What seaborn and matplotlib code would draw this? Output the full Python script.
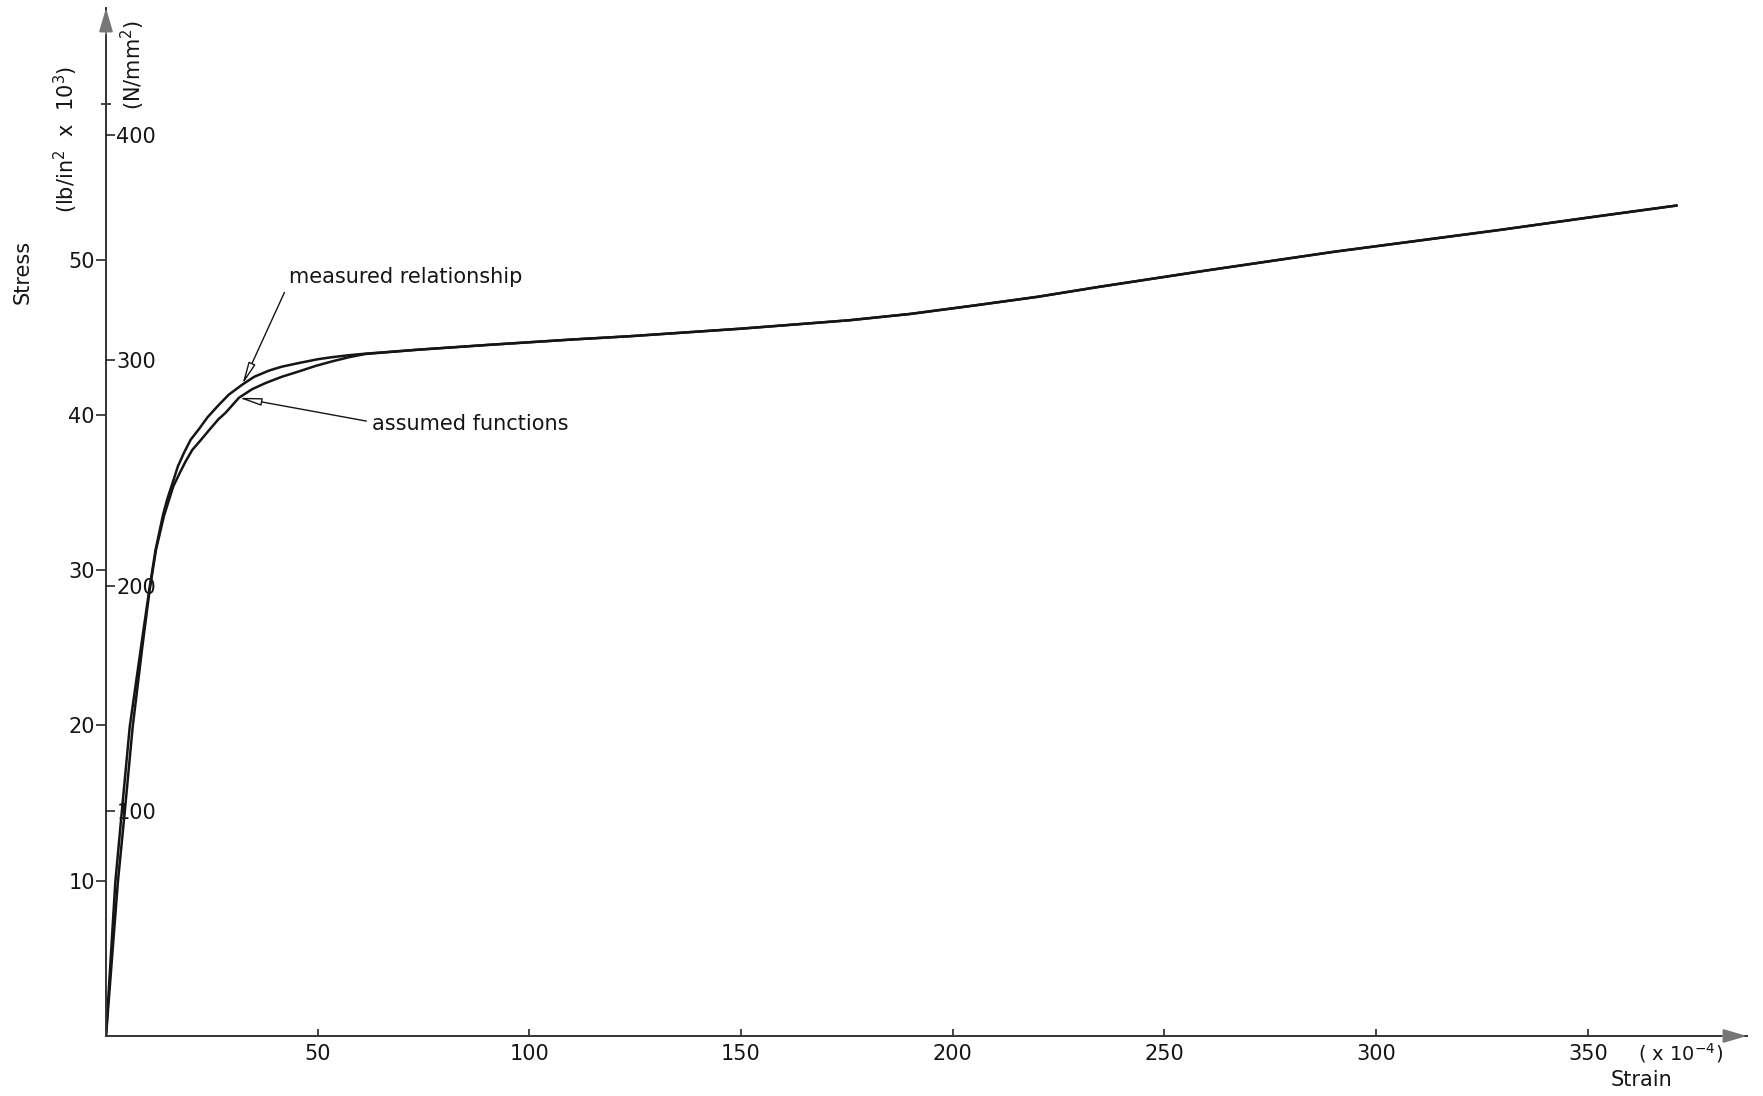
import numpy as np
import pandas as pd
import matplotlib
matplotlib.use("Agg")
import matplotlib.pyplot as plt
import seaborn as sns

# Strain (x 10^-4) and stress (lb/in^2 x 10^3)
measured_strain = [0, 2.2, 3.7, 5.6, 8.3, 10.2, 11.7, 13.5, 14.5, 15.7, 17.0, 18.5,
                   20.0, 22.0, 24.0, 26.5, 29.0, 32.2, 35.0, 38.5, 41.5, 45.6, 50.0,
                   53.0, 57.0, 61.3, 73.9, 90, 110, 123.5, 150, 175.5,
                   190, 205, 220, 234.5, 260, 290, 329, 350, 371]
measured_stress = [0, 9.9, 14.35, 19.9, 25.1, 28.7, 31.3, 33.6, 34.6, 35.6, 36.7, 37.6,
                   38.4, 39.1, 39.85, 40.6, 41.3, 41.95, 42.45, 42.85, 43.1, 43.34, 43.58,
                   43.7, 43.83, 43.94, 44.2, 44.5, 44.85, 45.06, 45.55, 46.09,
                   46.5, 47.04, 47.6, 48.24, 49.3, 50.5, 51.9, 52.7, 53.48]

assumed_strain = [0, 2.8, 4.4, 6.3, 8.6, 10.3, 11.8, 13.7, 15.9, 17.5, 18.8, 20.4,
                  22.0, 24.3, 26.5, 28.3, 31.4, 34.5, 37.7, 41.5, 45.6, 49.5, 53.5,
                  57.5, 61.3, 73.9, 90, 110, 123.5, 150, 175.5,
                  190, 205, 220, 234.5, 260, 290, 329, 350, 371]
assumed_stress = [0, 9.9, 14.35, 19.9, 25.1, 28.7, 31.3, 33.5, 35.4, 36.3, 37.0, 37.75,
                  38.25, 39.0, 39.7, 40.15, 41.1, 41.65, 42.05, 42.45, 42.8, 43.15, 43.45,
                  43.72, 43.92, 44.2, 44.5, 44.85, 45.06, 45.55, 46.09,
                  46.5, 47.04, 47.6, 48.24, 49.3, 50.5, 51.9, 52.7, 53.48]

strain_ticks = [50, 100, 150, 200, 250, 300, 350]
stress_ticks = [10, 20, 30, 40, 50]
si_ticks = [100, 200, 300, 400]
KSI_TO_NMM2 = 6.895

X_MAX = 387.6
Y_MAX = 66.2

sns.set_theme(style="white")
plt.rcParams["font.family"] = ["DejaVu Sans"]
INK = "#151515"
FS = 15

df = pd.concat([
    pd.DataFrame({"strain": measured_strain, "stress": measured_stress,
                  "curve": "measured relationship"}),
    pd.DataFrame({"strain": assumed_strain, "stress": assumed_stress,
                  "curve": "assumed functions"}),
], ignore_index=True)

W, H = 1763, 1096
fig = plt.figure(figsize=(W / 100, H / 100), dpi=100)
fig.patch.set_facecolor("white")
ax = fig.add_axes([106 / W, 60 / H, (1747 - 106) / W, (1036 - 8) / H])
ax.set_facecolor("none")

sns.lineplot(data=df, x="strain", y="stress", hue="curve",
             palette={"measured relationship": INK, "assumed functions": INK},
             estimator=None, sort=False, legend=False, lw=1.8, ax=ax)
for line in ax.get_lines():
    line.set_solid_joinstyle("round")

ax.set_xlim(0, X_MAX)
ax.set_ylim(0, Y_MAX)
ax.set_xlabel("")
ax.set_ylabel("")

for side in ("top", "right"):
    ax.spines[side].set_visible(False)
for side in ("left", "bottom"):
    ax.spines[side].set_color("#333333")
    ax.spines[side].set_linewidth(1.4)

# arrow heads at the ends of both axes
arrow_kw = dict(arrowstyle="-|>,head_length=1.2,head_width=0.35",
                color="#777777", lw=1.4, shrinkA=0, shrinkB=0)
ax.annotate("", xy=(0, 1), xycoords="axes fraction",
            xytext=(0, 0.975), textcoords="axes fraction", arrowprops=arrow_kw)
ax.annotate("", xy=(1, 0), xycoords="axes fraction",
            xytext=(0.985, 0), textcoords="axes fraction", arrowprops=arrow_kw)

# strain axis: short upward ticks, labels below
ax.set_xticks(strain_ticks)
ax.set_xticklabels([str(v) for v in strain_ticks])
ax.tick_params(axis="x", direction="in", length=5, width=1.1, color=INK,
               labelsize=FS, labelcolor=INK, pad=6, bottom=True)

# imperial stress scale on the left
ax.set_yticks(stress_ticks)
ax.set_yticklabels([str(v) for v in stress_ticks])
ax.set_yticks([60], minor=True)
ax.tick_params(axis="y", which="major", direction="out", length=7, width=1.1,
               color=INK, labelsize=FS, labelcolor=INK, pad=1, left=True)
ax.tick_params(axis="y", which="minor", direction="inout", length=7, width=1.1,
               color=INK, left=True)

# SI stress scale drawn on the right-hand side of the same axis line
ax2 = ax.twinx()
ax2.set_ylim(0, Y_MAX * KSI_TO_NMM2)
ax2.spines["right"].set_position(("axes", 0))
for side in ("top", "bottom", "left", "right"):
    ax2.spines[side].set_visible(False)
ax2.set_yticks(si_ticks)
ax2.set_yticklabels([str(v) for v in si_ticks])
ax2.tick_params(axis="y", direction="out", length=6.5, width=1.1, color=INK,
                labelsize=FS, labelcolor=INK, pad=1, right=True)
ax2.grid(False)
ax.grid(False)

# curve annotations
note_kw = dict(fontsize=FS, color=INK, va="center", ha="left")
ax.annotate("measured relationship", xy=(32.2, 41.95), xytext=(43.2, 48.9),
            arrowprops=dict(arrowstyle="-|>,head_length=0.9,head_width=0.15",
                            color=INK, lw=1.0, fc="white", shrinkA=2, shrinkB=0,
                            relpos=(0, 0.2)),
            **note_kw)
ax.annotate("assumed functions", xy=(31.4, 41.1), xytext=(62.9, 39.4),
            arrowprops=dict(arrowstyle="-|>,head_length=0.9,head_width=0.15",
                            color=INK, lw=1.0, fc="white", shrinkA=2, shrinkB=0,
                            relpos=(0, 0.6)),
            **note_kw)

# axis titles
fig.text(23 / W, 1 - 272 / H, "Stress", rotation=90, ha="center", va="center",
         fontsize=FS, color=INK)
fig.text(66 / W, 1 - 139 / H, r"(lb/in$^2$  x  10$^3$)", rotation=90,
         ha="center", va="center", fontsize=FS, color=INK)
fig.text(133 / W, 1 - 65 / H, r"(N/mm$^2$)", rotation=90, ha="center",
         va="center", fontsize=FS, color=INK)
fig.text(1681 / W, 1 - 1053 / H, r"( x 10$^{-4}$)", ha="center", va="center",
         fontsize=14, color=INK)
fig.text(1641 / W, 1 - 1080 / H, "Strain", ha="center", va="center",
         fontsize=FS, color=INK)

fig.savefig("out.png", dpi=100, facecolor="white")
